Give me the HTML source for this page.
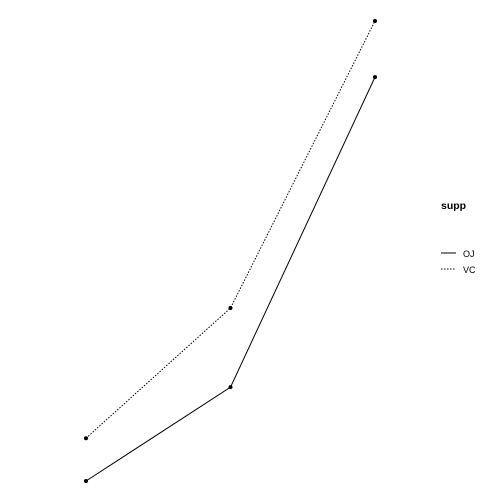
<!DOCTYPE html>
<html><head><meta charset="utf-8"><style>body{margin:0;background:#fff}svg{display:block}</style></head>
<body>
<svg id="chart" width="504" height="504" xmlns="http://www.w3.org/2000/svg" font-family="Liberation Sans, sans-serif">
<g id="plot"></g>
<g>
<text x="441" y="209" font-size="10.5" font-weight="bold" fill="#000">supp</text>
<line x1="441" y1="253" x2="456" y2="253" stroke="#000" stroke-width="1"/>
<text x="463" y="257" font-size="9" fill="#000">OJ</text>
<line x1="441" y1="269" x2="456" y2="269" stroke="#000" stroke-width="1" stroke-dasharray="1.5,1.5"/>
<text x="463" y="273" font-size="9" fill="#000">VC</text>
</g>
</svg>
<script>
const doses = [0.5, 1, 2];
const ojValues = [0, 20.4, 87.8];
const vcValues = [9.3, 37.6, 100];
const seriesNames = ['OJ', 'VC'];
function xScale(i){ return 86 + i * (375 - 86) / (doses.length - 1); }
function yScale(v){ return 481 - v * (481 - 21) / 100; }
const NS = 'http://www.w3.org/2000/svg';
const plot = document.getElementById('plot');
[ojValues, vcValues].forEach(function(vals, s){
  const pts = vals.map(function(v, i){ return xScale(i) + ',' + yScale(v); }).join(' ');
  const pl = document.createElementNS(NS, 'polyline');
  
  
  pl.setAttribute('points', pts);
  pl.setAttribute('fill', 'none');
  pl.setAttribute('stroke', '#000');
  pl.setAttribute('stroke-width', '1');
  if (s === 1) pl.setAttribute('stroke-dasharray', '1.5,1.5');
  plot.appendChild(pl);
  vals.forEach(function(v, i){
    const c = document.createElementNS(NS, 'circle');
    
    
    c.setAttribute('cx', xScale(i));
    c.setAttribute('cy', yScale(v));
    c.setAttribute('r', '2');
    c.setAttribute('fill', '#000');
    plot.appendChild(c);
  });
});
</script>
</body></html>
